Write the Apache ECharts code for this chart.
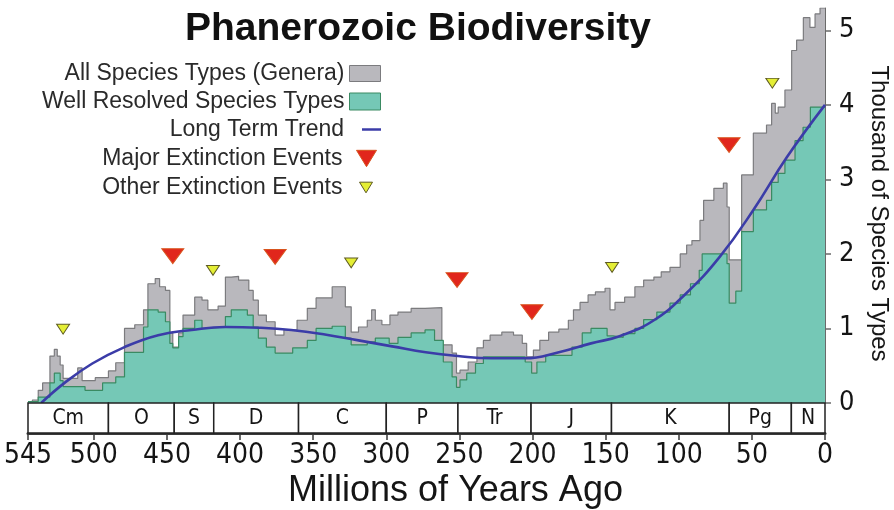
<!DOCTYPE html>
<html>
<head>
<meta charset="utf-8">
<script src="https://cdn.jsdelivr.net/npm/echarts@6/dist/echarts.min.js"></script>
<style>
html,body{margin:0;padding:0;background:#fff;}
#chart{width:894px;height:510px;}
</style>
</head>
<body>
<div id="chart"></div>
<script>
// ---- Data (Ma = millions of years ago, values in thousands of genera) ----
// Step series: each point gives the value from that age toward younger ages
const allGenera = [
  [545,0.0],[542,0.04],[538,0.17],[535,0.27],[530,0.63],[527,0.72],[525,0.63],[523,0.51],[521,0.33],
  [511,0.47],[508,0.3],[499,0.34],[490,0.43],[485,0.54],[479,1.0],[472,1.05],[466,1.25],[463,1.6],
  [458,1.67],[455,1.56],[451,1.51],[448,0.94],[446,0.75],[442,0.94],[439,1.18],[431,1.42],[426,1.38],
  [422,1.25],[415,1.3],[410,1.69],[406,1.7],[401,1.65],[394,1.51],[391,1.38],[387.5,1.18],[382,1.09],
  [376,0.91],[370,0.98],[361,1.11],[354,1.27],[348,1.41],[337,1.56],[328,1.29],[324,0.95],[319,1.02],
  [313,1.11],[310,1.25],[307.5,1.11],[303,1.05],[297.5,1.18],[292,1.22],[283,1.27],[273.5,1.28],
  [262,0.78],[255,0.67],[252,0.4],[249.6,0.44],[244,0.55],[238,0.74],[233.6,0.84],[229,0.91],[221,0.95],
  [213,0.91],[207,0.8],[204,0.62],[199.4,0.71],[195,0.84],[189,0.95],[182,0.99],[175.5,1.11],[172,1.25],
  [167.5,1.35],[162,1.45],[157,1.49],[150.4,1.54],[147,1.25],[143.6,1.35],[137,1.42],[130,1.56],
  [124,1.65],[117,1.69],[112,1.76],[106,1.82],[99,2.0],[94.6,2.12],[91,2.18],[85.5,2.45],[83,2.72],
  [76,2.88],[69.5,2.95],[67,2.63],[65.5,1.92],[57,3.06],[49,3.62],[40,3.73],[36.5,4.02],[34,3.89],
  [32,3.97],[27.4,4.2],[22.8,4.73],[19.4,4.87],[14.8,5.17],[10.3,5.04],[6.8,5.22],[3.4,5.3],[0,5.3]
];
const wellResolved = [
  [545,0.02],[538,0.08],[530,0.27],[527,0.4],[523,0.3],[521,0.22],[506,0.17],[494,0.27],[485,0.35],
  [479,0.68],[466,1.02],[463,1.25],[456,1.22],[451,1.09],[448,0.8],[446,0.74],[442,0.89],[439,1.0],
  [431,1.11],[426,1.0],[422,1.02],[410,1.16],[406,1.25],[395,1.18],[391,1.02],[387.5,0.87],[382,0.75],
  [376,0.67],[364,0.74],[354,0.84],[348,1.0],[337,1.03],[328,0.87],[324,0.78],[313,0.82],[307.5,0.87],
  [298,0.8],[292,0.88],[283,0.94],[273.5,0.98],[267,0.84],[261,0.55],[255,0.35],[252,0.21],[249.6,0.31],
  [245,0.4],[239,0.53],[233.6,0.62],[205,0.55],[200.6,0.4],[197,0.55],[191,0.64],[173,0.75],[166,0.94],
  [160,1.0],[149,0.9],[145,0.88],[138,0.93],[130,1.0],[124,1.12],[115,1.22],[106,1.34],[99,1.45],
  [92,1.6],[86,1.78],[84,2.0],[67,1.87],[65.5,1.34],[61,1.5],[57,2.3],[49,2.59],[40,2.72],[36.5,2.96],
  [32,3.08],[27.4,3.26],[20.5,3.52],[15,3.7],[10,3.97],[0,3.97]
];
const longTermTrend = [
  [536,0],[520,0.27],[501,0.53],[479,0.75],[456,0.91],[433,0.98],[410,1.02],[387,1.01],[365,0.98],
  [342,0.92],[319,0.84],[296,0.76],[273,0.68],[251,0.63],[228,0.6],[205,0.6],[182,0.68],[160,0.8],
  [140,0.9],[117,1.11],[95,1.47],[72,1.96],[49,2.59],[26,3.3],[0,4.0]
];
const majorExtinctions = [[446,1.97],[376,1.96],[251.6,1.65],[200.4,1.22],[65.6,3.46]];
const otherExtinctions = [[521,0.99],[418.5,1.78],[324,1.88],[145.6,1.82],[36,4.29]];

const periodNames  = ['Cm','O','S','D','C','P','Tr','J','K','Pg','N'];
const periodStarts = [545,490,445,418,360,300,251,201,146,65.5,23];
const periodEnds   = [490,445,418,360,300,251,201,146,65.5,23,0];

const xTickValues = [545,500,450,400,350,300,250,200,150,100,50,0];
const yTickValues = [0,1,2,3,4,5];

// ---- Styles ----
const NARROW = "'Liberation Sans Narrow','Arial Narrow','DejaVu Sans Condensed','Roboto Condensed',sans-serif";
const SANS = "'Liberation Sans',Arial,sans-serif";
const GRAY = '#b9b8bd', GRAY_EDGE = '#7b7b7e';
const TEAL = '#75c8b6', TEAL_EDGE = '#3a8a62';
const TREND = '#3b3ca8';
const RED = '#e1261c', YELLOW = '#e4ee35';
const TRI = 'path://M0,0L22,0L11,18Z';

const chart = echarts.init(document.getElementById('chart'), null, {renderer:'canvas'});

const legendBase = {orient:'vertical', padding:0, selectedMode:false,
  textStyle:{fontFamily:SANS, fontSize:23, color:'#2a2a2a', lineHeight:22}, align:'right'};

const option = {
  animation:false,
  backgroundColor:'#fff',
  title:{
    text:'Phanerozoic Biodiversity', left:180, top:5,
    textStyle:{fontFamily:SANS, fontWeight:'bold', fontSize:39, color:'#111'}
  },
  legend:[
    Object.assign({}, legendBase, {right:513, top:62, itemWidth:31, itemHeight:16,
      data:[{name:'All Species Types (Genera)', icon:'rect', itemStyle:{color:GRAY, borderColor:GRAY_EDGE, borderWidth:1}}]}),
    Object.assign({}, legendBase, {right:513, top:90, itemWidth:31, itemHeight:17,
      data:[{name:'Well Resolved Species Types', icon:'rect', itemStyle:{color:TEAL, borderColor:TEAL_EDGE, borderWidth:1}}]}),
    Object.assign({}, legendBase, {right:513, top:118, itemWidth:19, itemHeight:2.5,
      textStyle:Object.assign({}, legendBase.textStyle, {padding:[0,13,0,0]}),
      data:[{name:'Long Term Trend', icon:'rect', itemStyle:{color:TREND, borderWidth:0}}]}),
    Object.assign({}, legendBase, {right:517, top:147, itemWidth:20, itemHeight:18,
      textStyle:Object.assign({}, legendBase.textStyle, {padding:[0,9,0,0]}),
      data:[{name:'Major Extinction Events', icon:TRI, itemStyle:{color:RED, borderColor:'#d8541e', borderWidth:1}}]}),
    Object.assign({}, legendBase, {right:521, top:176, itemWidth:13, itemHeight:12,
      textStyle:Object.assign({}, legendBase.textStyle, {padding:[0,12,0,0]}),
      data:[{name:'Other Extinction Events', icon:TRI, itemStyle:{color:YELLOW, borderColor:'#5e5b22', borderWidth:1}}]})
  ],
  grid:[
    {left:28, right:69, top:8, bottom:107, containLabel:false, outerBoundsMode:'none'},
    {left:28, right:69, top:403, height:30, containLabel:false, outerBoundsMode:'none'}
  ],
  xAxis:[
    {gridIndex:0, type:'value', min:0, max:545, inverse:true, show:false},
    {gridIndex:1, type:'value', min:0, max:545, inverse:true, position:'bottom',
      axisLine:{show:true, lineStyle:{color:'#3a3a3a', width:3}},
      axisTick:{show:true, length:7, lineStyle:{color:'#3a3a3a', width:1.5}, customValues:xTickValues},
      axisLabel:{show:true, margin:9, fontFamily:NARROW, fontSize:28, color:'#151515', customValues:xTickValues},
      splitLine:{show:false},
      name:'Millions of Years Ago', nameLocation:'middle', nameGap:40,
      nameTextStyle:{fontFamily:SANS, fontSize:36, color:'#151515', padding:[0,0,0,58]}
    }
  ],
  yAxis:[
    {gridIndex:0, type:'value', min:0, max:5.3, position:'right',
      axisLine:{show:true, lineStyle:{color:'#6a6a6a', width:1}},
      axisTick:{show:true, inside:false, length:6, lineStyle:{color:'#6a6a6a', width:1.5}, customValues:yTickValues},
      axisLabel:{show:true, margin:14, fontFamily:NARROW, fontSize:27, color:'#151515', customValues:yTickValues},
      splitLine:{show:false},
      name:'Thousand of Species Types', nameLocation:'middle', nameRotate:-90, nameGap:42,
      nameTextStyle:{fontFamily:SANS, fontSize:24, color:'#151515', padding:[0,0,0,16]}
    },
    {gridIndex:1, type:'value', min:0, max:1, show:false}
  ],
  series:[
    {name:'All Species Types (Genera)', type:'line', xAxisIndex:0, yAxisIndex:0, step:'end',
      data:allGenera, showSymbol:false, symbol:'none', z:2,
      lineStyle:{color:GRAY_EDGE, width:1.2}, itemStyle:{color:GRAY},
      areaStyle:{color:GRAY, opacity:1}},
    {name:'Well Resolved Species Types', type:'line', xAxisIndex:0, yAxisIndex:0, step:'end',
      data:wellResolved, showSymbol:false, symbol:'none', z:3,
      lineStyle:{color:TEAL_EDGE, width:1.2}, itemStyle:{color:TEAL},
      areaStyle:{color:TEAL, opacity:1}},
    {name:'Long Term Trend', type:'line', xAxisIndex:0, yAxisIndex:0, smooth:0.45,
      data:longTermTrend, showSymbol:false, symbol:'none', z:4,
      lineStyle:{color:TREND, width:2.6}, itemStyle:{color:TREND}},
    {name:'Major Extinction Events', type:'scatter', xAxisIndex:0, yAxisIndex:0,
      data:majorExtinctions, symbol:TRI, symbolSize:[22,18], symbolKeepAspect:true, z:5,
      itemStyle:{color:RED, borderColor:'#d8541e', borderWidth:1, opacity:1}},
    {name:'Other Extinction Events', type:'scatter', xAxisIndex:0, yAxisIndex:0,
      data:otherExtinctions, symbol:TRI, symbolSize:[13,12], symbolKeepAspect:true, z:5,
      itemStyle:{color:YELLOW, borderColor:'#5e5b22', borderWidth:1, opacity:1}},
    {name:'Periods', type:'custom', xAxisIndex:1, yAxisIndex:1, silent:true, z:6,
      data:periodStarts.map((s,i)=>[s, periodEnds[i], 0]),
      encode:{x:[0,1], y:2},
      renderItem:function(params, api){
        const a = api.coord([api.value(0), 1]);
        const b = api.coord([api.value(1), 0]);
        const x = Math.min(a[0], b[0]), w = Math.abs(b[0]-a[0]);
        const y = Math.min(a[1], b[1]), h = Math.abs(b[1]-a[1]);
        return {type:'group', children:[
          {type:'rect', shape:{x:x, y:y, width:w, height:h},
            style:{fill:'#fff', stroke:'#222', lineWidth:1.5}},
          {type:'text', style:{text:periodNames[params.dataIndex], x:x+w/2, y:y+h/2+1,
            align:'center', verticalAlign:'middle', fontFamily:NARROW, fontSize:21, fill:'#151515'}}
        ]};
      }
    }
  ]
};
chart.setOption(option);
</script>
</body>
</html>
